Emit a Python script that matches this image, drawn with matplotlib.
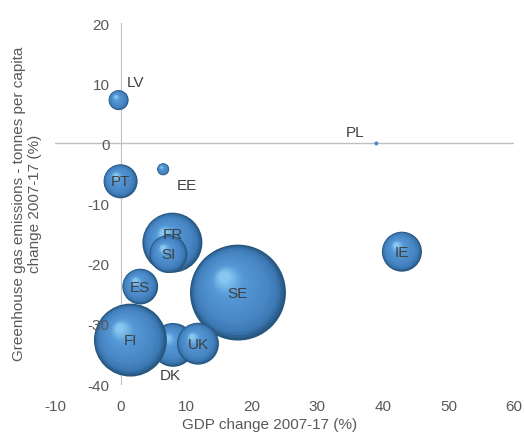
import numpy as np
import matplotlib
matplotlib.use("Agg")
import matplotlib.pyplot as plt
from matplotlib.transforms import offset_copy
from matplotlib.colors import LinearSegmentedColormap

# data
countries = ["LV", "PL", "EE", "PT", "FR", "SI", "ES", "SE", "DK", "FI", "UK", "IE"]
gdp_change = [-0.3, 39.0, 6.5, 0.0, 7.9, 7.3, 3.0, 17.9, 8.0, 1.5, 11.8, 42.9]
ghg_change = [7.2, 0.0, -4.3, -6.3, -16.5, -18.4, -23.8, -24.8, -33.5, -32.7, -33.3, -18.0]
bubble_size = [1.0, 0.04, 0.36, 2.9, 9.0, 3.6, 3.2, 23.0, 4.8, 13.3, 4.4, 4.0]

x_ticks = [-10, 0, 10, 20, 30, 40, 50, 60]
y_ticks = [-40, -30, -20, -10, 0, 10, 20]

# label offsets in points (label position relative to bubble centre)
label_offset = {"LV": (12, 13), "PL": (-15, 8), "EE": (17, -11), "FR": (0, 6.5),
                "DK": (-2, -21.5)}

plt.rcParams["font.family"] = ["Liberation Sans", "DejaVu Sans"]

fig = plt.figure(figsize=(5.24, 4.39), dpi=100)
ax = fig.add_axes([0.105, 0.123, 0.876, 0.822])

ax.set_xlim(-10, 60)
ax.set_ylim(-40, 20)

sphere = LinearSegmentedColormap.from_list(
    "sphere", [(0.0, "#27567f"), (0.12, "#3b78b4"), (0.3, "#4886c4"),
               (0.75, "#5598d6"), (1.0, "#86c6f0")])


def draw_bubble(x, y, value, z):
    # fake 3d sphere: stacked circles shrinking towards the highlight
    r = np.sqrt(value * 100) * 0.72
    n = 22 if r > 3 else 1
    for i in range(n):
        t = i / max(n - 1, 1)
        rr = r * (1 - 0.88 * t)
        dx, dy = -0.28 * r * t, 0.32 * r * t
        tr = offset_copy(ax.transData, fig=fig, x=dx, y=dy, units="points")
        col = sphere(t) if n > 1 else "#4a8ac8"
        ax.scatter([x], [y], s=(2 * rr) ** 2, color=col,
                   edgecolors="none", transform=tr, zorder=z + i * 0.001,
                   clip_on=False)


for k, c in enumerate(countries):
    draw_bubble(gdp_change[k], ghg_change[k], bubble_size[k], 3 + k * 0.1)
    off = label_offset.get(c, (0, 0))
    ax.annotate(c, (gdp_change[k], ghg_change[k]), xytext=off,
                textcoords="offset points", ha="center", va="center",
                fontsize=11, color="#404040", zorder=10)

for s in ["top", "right", "bottom"]:
    ax.spines[s].set_visible(False)
ax.spines["left"].set_position(("data", 0))
ax.spines["left"].set_color("#bfbfbf")
ax.spines["left"].set_zorder(1)
ax.axhline(0, color="#bfbfbf", lw=1, zorder=1)
# tick labels sit on top of the bubbles, the axis lines stay behind
ax.yaxis.set_zorder(20)

ax.set_xticks(x_ticks)
ax.set_yticks(y_ticks)
ax.set_xticklabels([str(v) for v in x_ticks])
ax.set_yticklabels([str(v) for v in y_ticks])
ax.tick_params(axis="both", length=0, labelsize=11, labelcolor="#595959")
ax.tick_params(axis="x", pad=11)
ax.tick_params(axis="y", pad=8)

fig.text(0.514, 0.015, "GDP change 2007-17 (%)", ha="center", va="bottom",
         fontsize=11, color="#595959")
fig.text(0.052, 0.535, "Greenhouse gas emissions - tonnes per capita\nchange 2007-17 (%)",
         ha="center", va="center", rotation=90, fontsize=11, color="#595959",
         linespacing=1.15)

fig.savefig("out.png", dpi=100)
